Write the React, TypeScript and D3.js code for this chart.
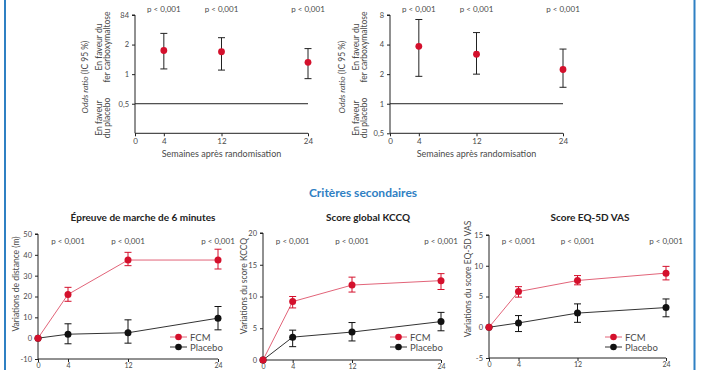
import React, { useEffect, useRef } from 'react';
import * as d3 from 'd3';

// semaines après randomisation
const weeks = [4, 12, 24];
const weeksWithBase = [0, 4, 12, 24];
const xTicks = [0, 4, 12, 24];
const pLabels = ['p < 0,001', 'p < 0,001', 'p < 0,001'];

// critère principal : odds ratio (IC 95 %)
const orLeft = [1.74, 1.69, 1.32];
const orLeftLo = [1.13, 1.1, 0.9];
const orLeftHi = [2.6, 2.35, 1.82];
const orLeftTicks = [0.5, 1, 2, 4];
const orLeftTickLabels = ['0,5', '1', '2', '84'];

const orRight = [3.84, 3.19, 2.23];
const orRightLo = [1.9, 2.0, 1.47];
const orRightHi = [7.2, 5.3, 3.6];
const orRightTicks = [0.5, 1, 2, 4, 8];
const orRightTickLabels = ['0,5', '1', '2', '4', '8'];

// critères secondaires
const walkFcm = [0, 21, 37.5, 37.5];
const walkFcmLo = [0, 17.7, 34.8, 33.2];
const walkFcmHi = [0, 24.4, 41.2, 42.7];
const walkPlacebo = [0, 1.9, 2.6, 9.6];
const walkPlaceboLo = [0, -2.7, -2.4, 4.0];
const walkPlaceboHi = [0, 6.9, 8.8, 15.2];
const walkTicks = [-10, 0, 10, 20, 30, 40, 50];

const kccqFcm = [0, 9.2, 11.8, 12.5];
const kccqFcmLo = [0, 8.2, 10.7, 11.1];
const kccqFcmHi = [0, 10.0, 13.05, 13.6];
const kccqPlacebo = [0, 3.6, 4.4, 6.05];
const kccqPlaceboLo = [0, 2.1, 3.0, 4.6];
const kccqPlaceboHi = [0, 4.7, 5.9, 7.5];
const kccqTicks = [0, 5, 10, 15, 20];

const eqFcm = [0, 5.8, 7.6, 8.8];
const eqFcmLo = [0, 4.9, 6.9, 7.7];
const eqFcmHi = [0, 6.6, 8.4, 9.9];
const eqPlacebo = [0, 0.7, 2.3, 3.2];
const eqPlaceboLo = [0, -0.7, 0.8, 1.7];
const eqPlaceboHi = [0, 1.9, 3.8, 4.6];
const eqTicks = [-5, 0, 5, 10, 15];

const RED = '#d4102c';
const RED_LINE = '#e26479';
const BLUE = '#2f80c3';
const GREY = '#4a4a4a';
const FONT = 'Lato, "Open Sans", sans-serif';

type Sel = d3.Selection<SVGGElement, unknown, null, undefined>;

const App: React.FC = () => {
  const svgRef = useRef<SVGSVGElement>(null);

  useEffect(() => {
    if (!svgRef.current) return;
    const svg = d3.select(svgRef.current);
    svg.selectAll('*').remove();
    const root: Sel = svg.append('g').style('font-family', FONT);

    // cadre bleu
    [5, 694.5].forEach(x => {
      root.append('line').attr('x1', x).attr('x2', x).attr('y1', 0).attr('y2', 370)
        .attr('stroke', BLUE).attr('stroke-width', 2);
    });

    const yLabel = (x: number, y: number, txt: string, italicPart?: string) => {
      const t = root.append('text')
        .attr('transform', `translate(${x},${y}) rotate(-90)`)
        .attr('text-anchor', 'middle')
        .attr('dominant-baseline', 'central')
        .attr('font-size', 8.5)
        .attr('fill', GREY);
      if (italicPart) {
        t.append('tspan').attr('font-style', 'italic').text(italicPart);
        t.append('tspan').text(txt);
      } else {
        t.text(txt);
      }
    };

    // ---- odds ratio charts ----
    const drawOdds = (
      x0: number, x1: number, domain: [number, number], ticks: number[], tickLabels: string[],
      refValue: number, vals: number[], lo: number[], hi: number[],
      orX: number, favX: number
    ) => {
      const x = d3.scaleLinear().domain([0, 24]).range([x0, x1]);
      const y = d3.scaleLog().base(2).domain(domain).range([133.3, 15]);
      const g = root.append('g');

      const yAxis = d3.axisLeft(y).tickValues(ticks).tickSize(3)
        .tickFormat((_, i) => tickLabels[i]);
      g.append('g').attr('transform', `translate(${x0},0)`).call(yAxis)
        .call(a => a.select('.domain').attr('stroke', '#222').attr('d', `M-3,15H0V133.3`))
        .call(a => a.selectAll('.tick line').attr('stroke', '#222'))
        .call(a => a.selectAll('.tick text').attr('font-size', 7.5).attr('fill', GREY).attr('font-family', FONT));

      const xAxis = d3.axisBottom(x).tickValues(xTicks).tickSize(3).tickFormat(d => `${d}`);
      g.append('g').attr('transform', `translate(0,133.3)`).call(xAxis)
        .call(a => a.select('.domain').attr('stroke', '#222').attr('d', `M${x0},0H${x1}`))
        .call(a => a.selectAll('.tick line').attr('stroke', '#222'))
        .call(a => a.selectAll('.tick text').attr('font-size', 8).attr('fill', GREY).attr('font-family', FONT).attr('dy', '0.55em'));

      g.append('line').attr('x1', x0).attr('x2', x(24)).attr('y1', y(refValue)).attr('y2', y(refValue))
        .attr('stroke', '#222').attr('stroke-width', 1);

      weeks.forEach((w, i) => {
        const cx = x(w);
        g.append('line').attr('x1', cx).attr('x2', cx).attr('y1', y(lo[i])).attr('y2', y(hi[i]))
          .attr('stroke', '#222').attr('stroke-width', 1);
        [lo[i], hi[i]].forEach(v => {
          g.append('line').attr('x1', cx - 3.5).attr('x2', cx + 3.5).attr('y1', y(v)).attr('y2', y(v))
            .attr('stroke', '#222').attr('stroke-width', 1);
        });
        g.append('circle').attr('cx', cx).attr('cy', y(vals[i])).attr('r', 3.4).attr('fill', RED);
        g.append('text').attr('x', cx).attr('y', 12).attr('text-anchor', 'middle')
          .attr('font-size', 8).attr('fill', GREY).text(pLabels[i]);
      });

      g.append('text').attr('x', (x0 + x1) / 2).attr('y', 157).attr('text-anchor', 'middle')
        .attr('font-size', 9).attr('fill', GREY).text('Semaines après randomisation');

      yLabel(orX, 77, ' (IC 95 %)', 'Odds ratio');
      yLabel(favX, 47, 'En faveur du');
      yLabel(favX + 8.5, 47, 'fer carboxymaltose');
      yLabel(favX, 118, 'En faveur');
      yLabel(favX + 8.5, 118, 'du placebo');
    };

    drawOdds(135, 308, [0.25, 4], orLeftTicks, orLeftTickLabels, 0.5,
      orLeft, orLeftLo, orLeftHi, 85, 98.5);
    drawOdds(390, 563, [0.5, 8], orRightTicks, orRightTickLabels, 1,
      orRight, orRightLo, orRightHi, 341.5, 355.5);

    root.append('text').attr('x', 363).attr('y', 197).attr('text-anchor', 'middle')
      .attr('font-size', 12).attr('font-weight', 700).attr('fill', BLUE).text('Critères secondaires');

    // ---- secondary charts ----
    const drawSecondary = (
      title: string, titleX: number, x0: number, x1: number, domain: [number, number],
      yRange: [number, number], ticks: number[], yTitle: string, yTitleX: number, yTitleY: number,
      fcm: number[], fcmLo: number[], fcmHi: number[],
      pla: number[], plaLo: number[], plaHi: number[], legX: number
    ) => {
      const x = d3.scaleLinear().domain([0, 24]).range([x0, x1]);
      const y = d3.scaleLinear().domain(domain).range(yRange);
      const g = root.append('g');

      g.append('text').attr('x', titleX).attr('y', 221).attr('text-anchor', 'middle')
        .attr('font-size', 10).attr('font-weight', 700).attr('fill', '#222').text(title);

      const yAxis = d3.axisLeft(y).tickValues(ticks).tickSize(3).tickFormat(d => `${d}`);
      g.append('g').attr('transform', `translate(${x0},0)`).call(yAxis)
        .call(a => a.select('.domain').attr('stroke', '#222').attr('d', `M-3,${yRange[1]}H0V${yRange[0]}`))
        .call(a => a.selectAll('.tick line').attr('stroke', '#222'))
        .call(a => a.selectAll('.tick text').attr('font-size', 7.5).attr('fill', GREY).attr('font-family', FONT));

      const axisY = y(domain[0]);
      const xAxis = d3.axisBottom(x).tickValues(xTicks).tickSize(3).tickPadding(2).tickFormat(d => `${d}`);
      g.append('g').attr('transform', `translate(0,${axisY})`).call(xAxis)
        .call(a => a.select('.domain').attr('stroke', '#222').attr('d', `M${x0},0H${x1}`))
        .call(a => a.selectAll('.tick line').attr('stroke', '#222'))
        .call(a => a.selectAll('.tick text').attr('font-size', 7).attr('fill', GREY).attr('font-family', FONT).attr('dy', '0.5em'));

      const line = d3.line<number>().x((_, i) => x(weeksWithBase[i])).y(d => y(d));

      const series = [
        { vals: pla, lo: plaLo, hi: plaHi, col: '#111', lineCol: '#333' },
        { vals: fcm, lo: fcmLo, hi: fcmHi, col: RED, lineCol: RED_LINE },
      ];
      series.forEach(s => {
        g.append('path').datum(s.vals).attr('d', line).attr('fill', 'none')
          .attr('stroke', s.lineCol).attr('stroke-width', 1);
        weeksWithBase.forEach((w, i) => {
          if (w === 0) return;
          const cx = x(w);
          g.append('line').attr('x1', cx).attr('x2', cx).attr('y1', y(s.lo[i])).attr('y2', y(s.hi[i]))
            .attr('stroke', s.col).attr('stroke-width', 1);
          [s.lo[i], s.hi[i]].forEach(v => {
            g.append('line').attr('x1', cx - 3.5).attr('x2', cx + 3.5).attr('y1', y(v)).attr('y2', y(v))
              .attr('stroke', s.col).attr('stroke-width', 1);
          });
        });
        g.selectAll(null).data(s.vals).enter().append('circle')
          .attr('cx', (_, i) => x(weeksWithBase[i])).attr('cy', d => y(d)).attr('r', 3.5)
          .attr('fill', s.col);
      });

      weeks.forEach((w, i) => {
        g.append('text').attr('x', x(w)).attr('y', 244).attr('text-anchor', 'middle')
          .attr('font-size', 8).attr('fill', GREY).text(pLabels[i]);
      });

      yLabel(yTitleX, yTitleY, yTitle);

      // légende
      [{ lab: 'FCM', col: RED, lc: RED_LINE, dy: 337 }, { lab: 'Placebo', col: '#111', lc: '#333', dy: 347 }]
        .forEach(l => {
          g.append('line').attr('x1', legX).attr('x2', legX + 17).attr('y1', l.dy).attr('y2', l.dy)
            .attr('stroke', l.lc).attr('stroke-width', 1);
          g.append('circle').attr('cx', legX + 8.5).attr('cy', l.dy).attr('r', 3.3).attr('fill', l.col);
          g.append('text').attr('x', legX + 20).attr('y', l.dy).attr('dominant-baseline', 'central')
            .attr('font-size', 9.5).attr('fill', GREY).text(l.lab);
        });
    };

    drawSecondary('Épreuve de marche de 6 minutes', 143, 38, 218, [-10, 50], [359, 234], walkTicks,
      'Variations de distance (m)', 16, 284,
      walkFcm, walkFcmLo, walkFcmHi, walkPlacebo, walkPlaceboLo, walkPlaceboHi, 170);
    drawSecondary('Score global KCCQ', 368, 263, 441, [0, 20], [360, 233], kccqTicks,
      'Variations du score KCCQ', 244, 286,
      kccqFcm, kccqFcmLo, kccqFcmHi, kccqPlacebo, kccqPlaceboLo, kccqPlaceboHi, 390);
    drawSecondary('Score EQ-5D VAS', 590, 489, 666, [-5, 15], [358, 235], eqTicks,
      'Variations du  score EQ-5D VAS', 468, 279,
      eqFcm, eqFcmLo, eqFcmHi, eqPlacebo, eqPlaceboLo, eqPlaceboHi, 605);
  }, []);

  return (
    <svg ref={svgRef} width={702} height={370}
      style={{ position: 'absolute', left: 0, top: 0, background: '#fff' }} />
  );
};

export default App;
